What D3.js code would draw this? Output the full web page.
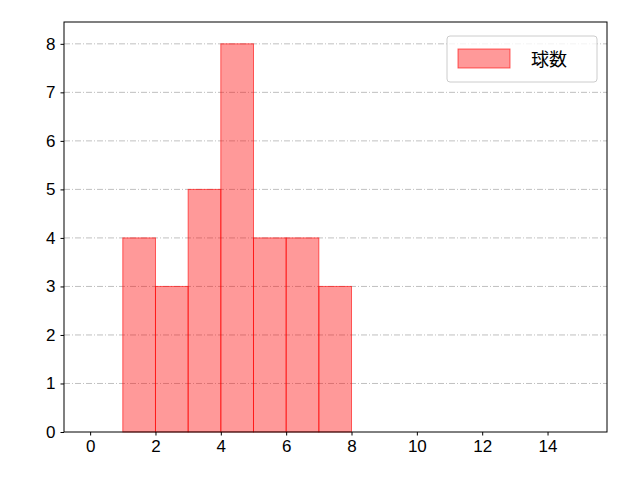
<!DOCTYPE html>
<html><head><meta charset="utf-8">
<script src="https://cdn.jsdelivr.net/npm/d3@7"></script>
<style>body{margin:0;background:#fff}</style>
</head><body>
<script>
const binStarts = [1, 2, 3, 4, 5, 6, 7];
const counts = [4, 3, 5, 8, 4, 4, 3];
const xTicks = [0, 2, 4, 6, 8, 10, 12, 14];
const yTicks = [0, 1, 2, 3, 4, 5, 6, 7, 8];
const seriesName = "球数";

const W = 640, H = 480;
const m = {l: 64, r: 33, t: 22, b: 48};
const svg = d3.select("body").append("svg").attr("width", W).attr("height", H)
  .style("font-family", "'Noto Sans CJK JP', 'DejaVu Sans', sans-serif");

const x = d3.scaleLinear().domain([-0.8, 15.82]).range([m.l, W - m.r]);
const y = d3.scaleLinear().domain([0, 8.45]).range([H - m.b, m.t]);

// grid
svg.append("g").selectAll("line").data(yTicks.slice(1)).enter().append("line")
  .attr("x1", m.l).attr("x2", W - m.r)
  .attr("y1", d => y(d)).attr("y2", d => y(d))
  .attr("stroke", "#b0b0b0").attr("stroke-width", 0.8)
  .attr("stroke-dasharray", "6,2,1,2");

svg.append("g").selectAll("rect").data(binStarts).enter().append("rect")
  .attr("x", d => x(d)).attr("width", d => x(d + 1) - x(d))
  .attr("y", (d, i) => y(counts[i])).attr("height", (d, i) => y(0) - y(counts[i]))
  .attr("fill", "rgba(255,0,0,0.4)").attr("stroke", "rgba(255,0,0,0.6)").attr("stroke-width", 1);

const xa = svg.append("g").attr("transform", `translate(0,${H - m.b})`)
  .call(d3.axisBottom(x).tickValues(xTicks).tickSize(3.5).tickPadding(4));
const ya = svg.append("g").attr("transform", `translate(${m.l},0)`)
  .call(d3.axisLeft(y).tickValues(yTicks).tickSize(3.5).tickPadding(5));
[xa, ya].forEach(a => {
  a.selectAll("text").attr("font-size", 17).attr("fill", "#000");
  a.select(".domain").remove();
  a.selectAll(".tick line").attr("stroke", "#000");
});

svg.append("rect").attr("x", m.l).attr("y", m.t)
  .attr("width", W - m.l - m.r).attr("height", H - m.t - m.b)
  .attr("fill", "none").attr("stroke", "#000").attr("stroke-width", 1);

// legend
const lg = svg.append("g");
lg.append("rect").attr("x", 447).attr("y", 36).attr("width", 150).attr("height", 46)
  .attr("rx", 3).attr("fill", "#fff").attr("fill-opacity", 0.8).attr("stroke", "#ccc");
lg.append("rect").attr("x", 458).attr("y", 49).attr("width", 52).attr("height", 19)
  .attr("fill", "rgba(255,0,0,0.4)").attr("stroke", "rgba(255,0,0,0.6)");
lg.append("text").attr("x", 531).attr("y", 66).attr("font-size", 18).text(seriesName);
</script>
</body></html>
